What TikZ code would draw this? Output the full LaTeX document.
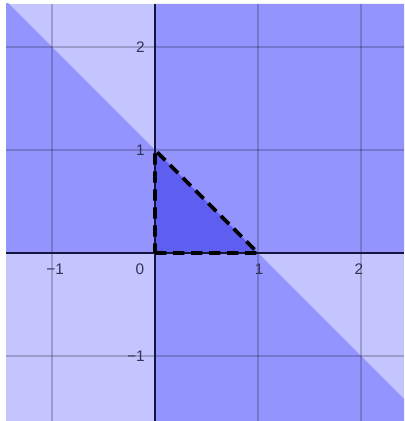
\documentclass[tikz,border=0pt]{standalone}
\usepackage{fontspec}
\setmainfont{Liberation Sans}
\definecolor{lightreg}{RGB}{196,196,255}
\definecolor{medreg}{RGB}{148,148,255}
\definecolor{darkreg}{RGB}{94,94,240}
\definecolor{labelcol}{RGB}{50,50,85}
\tikzset{
  gridline/.style={draw=black, opacity=0.2, line width=0.9pt},
  axisline/.style={draw={rgb,255:red,20;green,20;blue,60}, line width=1.3pt},
  bound/.style={draw=black, line width=2.9pt, dash pattern=on 8.5pt off 5pt},
  tick/.style={text=labelcol, font=\fontsize{11.5}{12}\selectfont, inner sep=0pt}
}
\begin{document}
\begin{tikzpicture}[x=77.25pt,y=77.25pt]
\def\xmin{-1.4466}\def\xmax{2.4175}\def\ymin{-1.6311}\def\ymax{2.4175}
\useasboundingbox (-1.5049,-1.6311) rectangle (2.4175,2.4563);
\begin{scope}
\clip (\xmin,\ymin) rectangle (\xmax,\ymax);
\fill[lightreg] (\xmin,\ymin) rectangle (\xmax,\ymax);
\fill[medreg] (\xmin,0) -- (0,0) -- (0,1) -- (\xmin,2.4466) -- cycle;
\fill[medreg] (1,0) -- (\xmax,0) -- (\xmax,\ymax) -- (0,\ymax) -- (0,1) -- cycle;
\fill[medreg] (0,0) -- (1,0) -- (2.6311,\ymin) -- (0,\ymin) -- cycle;
\fill[darkreg] (0,0) -- (1,0) -- (0,1) -- cycle;
\foreach \g in {-1,1,2} {
  \draw[gridline] (\g,\ymin) -- (\g,\ymax);
  \draw[gridline] (\xmin,\g) -- (\xmax,\g);
}
\draw[axisline] (\xmin,0) -- (\xmax,0);
\draw[axisline] (0,\ymin) -- (0,\ymax);
\end{scope}
\coordinate (O) at (0,0);
\coordinate (A) at (1,0);
\coordinate (B) at (0,1);
\draw[bound] (O) -- (A) -- (B) -- cycle;
\node[tick] (x0) at (-0.146,-0.155) {0};
\node[tick] (xm1) at (-0.97,-0.155) {−1};
\node[tick] (x1) at (1.01,-0.155) {1};
\node[tick] (x2) at (1.98,-0.155) {2};
\node[tick, anchor=east] (y2) at (-0.097,2) {2};
\node[tick, anchor=east] (y1) at (-0.097,1) {1};
\node[tick, anchor=east] (ym1) at (-0.097,-1) {−1};
\end{tikzpicture}
\end{document}
